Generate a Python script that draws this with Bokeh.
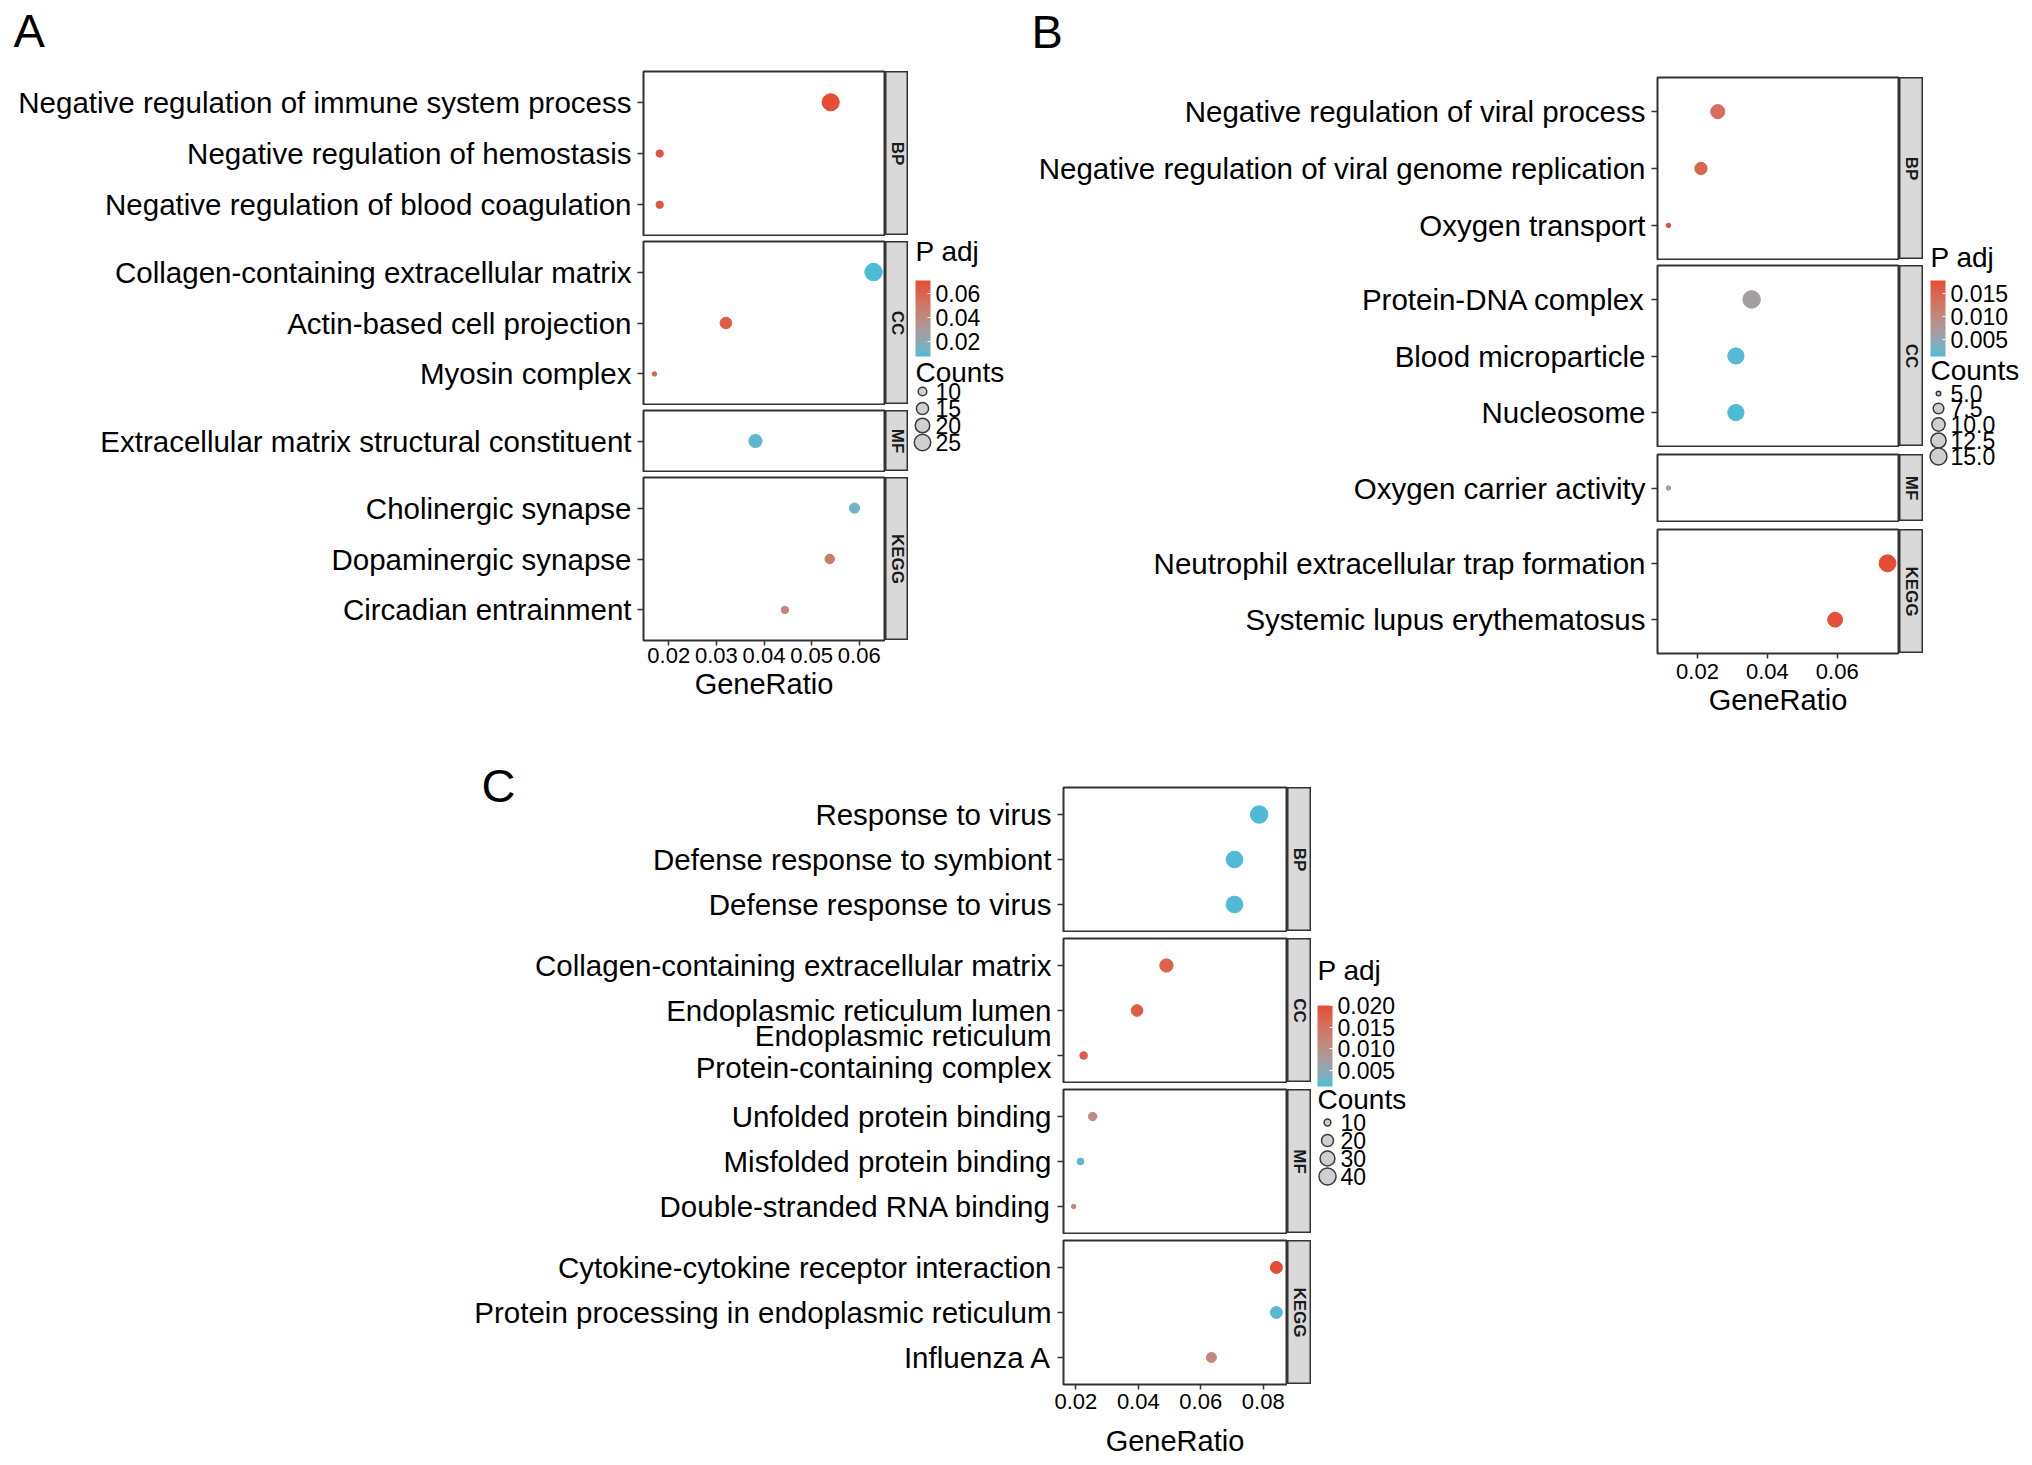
import math
from bokeh.plotting import figure
from bokeh.models import (Range1d, FactorRange, FixedTicker, PrintfTickFormatter, ColorBar,
                          LinearColorMapper, ColumnDataSource, Label, Spacer, AllLabels, Title)
from bokeh.layouts import row, column
from bokeh.transform import transform
from bokeh.embed import file_html
from bokeh.resources import INLINE
from bokeh.core.properties import value

FONT = "Liberation Sans"
ONTOLOGIES = ["BP", "CC", "MF", "KEGG"]

# ---------------- Panel A data ----------------
A_category = ["BP", "BP", "BP", "CC", "CC", "CC", "MF", "KEGG", "KEGG", "KEGG"]
A_term = ["Negative regulation of immune system process",
          "Negative regulation of hemostasis",
          "Negative regulation of blood coagulation",
          "Collagen-containing extracellular matrix",
          "Actin-based cell projection",
          "Myosin complex",
          "Extracellular matrix structural constituent",
          "Cholinergic synapse",
          "Dopaminergic synapse",
          "Circadian entrainment"]
A_gene_ratio = [0.054, 0.0181, 0.0181, 0.063, 0.032, 0.017, 0.0382, 0.059, 0.0538, 0.0444]
A_count = [27, 9, 9, 28, 14, 8, 17, 12, 11, 9]
A_padj = [0.0707, 0.0663, 0.0663, 0.0076, 0.0644, 0.0593, 0.0101, 0.0139, 0.0486, 0.0423]
A_ratio_ticks = [0.02, 0.03, 0.04, 0.05, 0.06]
A_padj_ticks = [0.02, 0.04, 0.06]
A_count_breaks = [10, 15, 20, 25]

# ---------------- Panel B data ----------------
B_category = ["BP", "BP", "BP", "CC", "CC", "CC", "MF", "KEGG", "KEGG"]
B_term = ["Negative regulation of viral process",
          "Negative regulation of viral genome replication",
          "Oxygen transport",
          "Protein-DNA complex",
          "Blood microparticle",
          "Nucleosome",
          "Oxygen carrier activity",
          "Neutrophil extracellular trap formation",
          "Systemic lupus erythematosus"]
B_gene_ratio = [0.0258, 0.021, 0.0117, 0.0355, 0.031, 0.031, 0.0117, 0.0744, 0.0594]
B_count = [11, 9, 5, 16, 14, 14, 5, 15, 12]
B_padj = [0.0137, 0.0148, 0.0170, 0.0066, 0.0016, 0.0013, 0.0068, 0.0178, 0.0173]
B_ratio_ticks = [0.02, 0.04, 0.06]
B_padj_ticks = [0.005, 0.010, 0.015]
B_count_breaks = [5.0, 7.5, 10.0, 12.5, 15.0]

# ---------------- Panel C data ----------------
C_category = ["BP", "BP", "BP", "CC", "CC", "CC", "MF", "MF", "MF", "KEGG", "KEGG", "KEGG"]
C_term = ["Response to virus",
          "Defense response to symbiont",
          "Defense response to virus",
          "Collagen-containing extracellular matrix",
          "Endoplasmic reticulum lumen",
          "Endoplasmic reticulum\nProtein-containing complex",
          "Unfolded protein binding",
          "Misfolded protein binding",
          "Double-stranded RNA binding",
          "Cytokine-cytokine receptor interaction",
          "Protein processing in endoplasmic reticulum",
          "Influenza A"]
C_gene_ratio = [0.0787, 0.0708, 0.0708, 0.049, 0.0396, 0.0225, 0.0254, 0.0215, 0.0193, 0.0842, 0.0842, 0.0634]
C_count = [42, 38, 38, 24, 19, 11, 12, 10, 9, 20, 20, 15]
C_padj = [0.0012, 0.0014, 0.0014, 0.0172, 0.0181, 0.0181, 0.0106, 0.0020, 0.0115, 0.0200, 0.0018, 0.0115]
C_ratio_ticks = [0.02, 0.04, 0.06, 0.08]
C_padj_ticks = [0.005, 0.010, 0.015, 0.020]
C_count_breaks = [10, 20, 30, 40]

# ---------------- colour scale (CIELAB interpolation like ggplot) ----------------
LOW_COLOR = "#4DBBD5"
HIGH_COLOR = "#E64B35"


def _lin(c):
    return c / 12.92 if c <= 0.04045 else ((c + 0.055) / 1.055) ** 2.4


def _gam(c):
    return 12.92 * c if c <= 0.0031308 else 1.055 * c ** (1 / 2.4) - 0.055


def hex_to_lab(h):
    r, g, b = (_lin(int(h[i:i + 2], 16) / 255) for i in (1, 3, 5))
    X = (0.4124564 * r + 0.3575761 * g + 0.1804375 * b) / 0.95047
    Y = (0.2126729 * r + 0.7151522 * g + 0.0721750 * b)
    Z = (0.0193339 * r + 0.1191920 * g + 0.9503041 * b) / 1.08883
    f = lambda t: t ** (1 / 3) if t > 216 / 24389 else (24389 / 27 * t + 16) / 116
    fx, fy, fz = f(X), f(Y), f(Z)
    return 116 * fy - 16, 500 * (fx - fy), 200 * (fy - fz)


def lab_to_hex(L, a, b):
    fy = (L + 16) / 116
    fx = fy + a / 500
    fz = fy - b / 200
    finv = lambda t: t ** 3 if t ** 3 > 216 / 24389 else (116 * t - 16) / (24389 / 27)
    X, Y, Z = finv(fx) * 0.95047, finv(fy), finv(fz) * 1.08883
    r = 3.2404542 * X - 1.5371385 * Y - 0.4985314 * Z
    g = -0.9692660 * X + 1.8760108 * Y + 0.0415560 * Z
    bb = 0.0556434 * X - 0.2040259 * Y + 1.0572252 * Z
    return "#%02x%02x%02x" % tuple(int(round(max(0.0, min(1.0, _gam(max(0.0, c)))) * 255)) for c in (r, g, bb))


_l0, _l1 = hex_to_lab(LOW_COLOR), hex_to_lab(HIGH_COLOR)
PALETTE = [lab_to_hex(*[_l0[k] + (_l1[k] - _l0[k]) * i / 255 for k in range(3)]) for i in range(256)]

DMIN, DMAX = 4.5, 17.5

# ---------------- geometry (page pixels, origin top-left of the page) ----------------
# text positions below are vertical centres of the text
LETTER_ROW_H = 60
GEO_A = dict(x0=8, frame_left=643, frame_right=884, strip_right=908, bar_left=915, legend_right=1030,
             block_top=LETTER_ROW_H, block_bottom=730, facet_top=[71, 241, 410, 477], facet_h=[164, 163, 61, 163],
             letter=("A", 13, 30), letter_mode="row",
             legend_top=236, legend_bottom=470, bar_top=280, bar_h=76, title_y=251,
             counts_y=372, item_y=[391, 408, 425, 442], circle_dx=7, label_dx=20,
             tick_standoff=2, label_standoff=2, ratio_fmt="%.2f", padj_fmt="%.2f", count_fmt="%d")
GEO_B = dict(x0=1030, frame_left=1657, frame_right=1898, strip_right=1923, bar_left=1930, legend_right=2024,
             block_top=LETTER_ROW_H, block_bottom=730, facet_top=[77, 265, 454, 529], facet_h=[182, 181, 67, 124],
             letter=("B", 1031, 31), letter_mode="row",
             legend_top=236, legend_bottom=480, bar_top=280, bar_h=76, title_y=257,
             counts_y=370, item_y=[393, 408, 424, 440, 456], circle_dx=8, label_dx=20,
             tick_standoff=5, label_standoff=2, ratio_fmt="%.2f", padj_fmt="%.3f", count_fmt="%.1f")
GEO_C = dict(x0=460, frame_left=1063, frame_right=1286, strip_right=1311, bar_left=1317, legend_right=1460,
             block_top=730, block_bottom=1462, facet_top=[787, 938, 1089, 1240], facet_h=[144, 144, 144, 144],
             letter=("C", 481, 806), letter_mode="title", letter_standoff=-49,
             legend_top=940, legend_bottom=1200, bar_top=1005, bar_h=81, title_y=970,
             counts_y=1099, item_y=[1122, 1140, 1158, 1176], circle_dx=10, label_dx=23,
             tick_standoff=4, label_standoff=13, ratio_fmt="%.2f", padj_fmt="%.3f", count_fmt="%d")

LETTER_SIZE = "47px"


def plain_fig(w, h):
    f = figure(width=w, height=h, x_range=Range1d(0, w), y_range=Range1d(h, 0),
               x_axis_location=None, y_axis_location=None, min_border=0,
               toolbar_location=None, output_backend="svg")
    f.outline_line_color = None
    f.grid.visible = False
    return f


def letter_fig(geo, width, height):
    letter, lx, ly = geo["letter"]
    f = plain_fig(width, height)
    f.text(x=[lx - geo["x0"]], y=[ly], text=[letter], text_font=value(FONT),
           text_font_size=value(LETTER_SIZE), text_baseline=value("middle"), text_color="black")
    return f


def build_panel(cat, terms, ratios, counts, padj, ratio_ticks, padj_ticks, count_breaks, geo):
    cmin, cmax = min(counts), max(counts)

    def diam(c):
        return DMIN + (DMAX - DMIN) * math.sqrt(max(c - cmin, 0) / (cmax - cmin))

    mapper = LinearColorMapper(palette=PALETTE, low=min(padj), high=max(padj))
    rmin, rmax = min(ratios), max(ratios)
    pad = 0.05 * (rmax - rmin)
    xr = Range1d(rmin - pad, rmax + pad)
    frame_w = geo["frame_right"] - geo["frame_left"]
    left_b = geo["frame_left"] - geo["x0"]
    strip_w = geo["strip_right"] - geo["frame_right"] - 1

    facets = [o for o in ONTOLOGIES if o in cat]
    items, strips = [], []
    letter, lx, ly = geo["letter"]
    prev_bottom = geo["block_top"]
    prev_strip_bottom = geo["block_top"]
    for i, ont in enumerate(facets):
        idx = [k for k, c in enumerate(cat) if c == ont]
        t = [terms[k] for k in idx]
        src = ColumnDataSource(dict(term=t,
                                    ratio=[ratios[k] for k in idx],
                                    count=[counts[k] for k in idx],
                                    padj=[padj[k] for k in idx],
                                    size=[diam(counts[k]) for k in idx]))
        top = geo["facet_top"][i]
        h = geo["facet_h"][i]
        last = i == len(facets) - 1
        top_b = top - prev_bottom
        bottom_b = geo["block_bottom"] - (top + h) if last else 1
        yr = FactorRange(factors=list(reversed(t)), range_padding=0.1, range_padding_units="absolute")
        p = figure(width=left_b + frame_w + 1, height=top_b + h + bottom_b, x_range=xr, y_range=yr,
                   output_backend="svg", toolbar_location=None,
                   x_axis_location="below" if last else None, y_axis_location="left",
                   min_border_left=left_b, min_border_right=1, min_border_top=top_b,
                   min_border_bottom=bottom_b)
        prev_bottom = top + h + bottom_b
        p.outline_line_color = "#333333"
        p.outline_line_width = 2
        p.grid.visible = False
        p.scatter(x="ratio", y="term", size="size", source=src,
                  fill_color=transform("padj", mapper), line_color=transform("padj", mapper),
                  line_width=1)
        ya = p.yaxis[0]
        ya.major_label_text_font = FONT
        ya.major_label_text_font_size = "29.5px"
        ya.major_label_text_color = "black"
        ya.major_label_text_line_height = 0.95
        ya.major_tick_out = 6
        ya.major_tick_in = 0
        ya.major_tick_line_color = "#333333"
        ya.major_tick_line_width = 1.5
        ya.axis_line_color = None
        ya.major_label_standoff = 6
        if last:
            xa = p.xaxis[0]
            xa.ticker = FixedTicker(ticks=ratio_ticks)
            xa.formatter = PrintfTickFormatter(format=geo["ratio_fmt"])
            xa.major_label_policy = AllLabels()
            xa.major_label_text_font = FONT
            xa.major_label_text_font_size = "22px"
            xa.major_label_text_color = "black"
            xa.major_tick_out = 5
            xa.major_tick_in = 0
            xa.major_tick_line_color = "#333333"
            xa.major_tick_line_width = 1.5
            xa.minor_tick_line_color = None
            xa.axis_line_color = None
            xa.major_label_standoff = geo["tick_standoff"]
            xa.axis_label = "GeneRatio"
            xa.axis_label_text_font = FONT
            xa.axis_label_text_font_size = "29px"
            xa.axis_label_text_font_style = "normal"
            xa.axis_label_text_color = "black"
            xa.axis_label_standoff = geo["label_standoff"]
        if i == 0 and geo["letter_mode"] == "title":
            p.add_layout(Title(text=letter, align="left", offset=lx - geo["frame_left"],
                               standoff=geo["letter_standoff"], vertical_align="bottom",
                               text_font=FONT, text_font_size=LETTER_SIZE,
                               text_font_style="normal", text_color="black"), "above")
        items.append(p)

        # strip
        strips.append(Spacer(width=strip_w, height=top - prev_strip_bottom))
        s = figure(width=strip_w, height=h, x_range=Range1d(0, 1), y_range=Range1d(0, 1),
                   x_axis_location=None, y_axis_location=None, min_border=0,
                   toolbar_location=None, output_backend="svg")
        s.background_fill_color = "#D9D9D9"
        s.outline_line_color = "#333333"
        s.outline_line_width = 2
        s.grid.visible = False
        s.add_layout(Label(x=0.5, y=0.5, text=ont, angle=-math.pi / 2, text_align="center",
                           text_baseline="middle", text_font=FONT, text_font_size="17px",
                           text_font_style="bold", text_color="#1A1A1A"))
        strips.append(s)
        prev_strip_bottom = top + h

    # legend (one figure, pixel coordinates from its top-left corner)
    lx0 = geo["strip_right"]
    lw = geo["legend_right"] - lx0
    lt = geo["legend_top"]
    lh = geo["legend_bottom"] - lt
    L = plain_fig(lw, lh)
    m = geo["bar_left"] - lx0
    cb = ColorBar(color_mapper=mapper, orientation="vertical",
                  location=(m, lh - (geo["bar_top"] - lt) - geo["bar_h"]), margin=0, padding=0,
                  width=15, height=geo["bar_h"], ticker=FixedTicker(ticks=padj_ticks),
                  formatter=PrintfTickFormatter(format=geo["padj_fmt"]),
                  major_label_policy=AllLabels(),
                  major_label_text_font=FONT, major_label_text_font_size="23px",
                  major_label_text_color="black", label_standoff=5,
                  major_tick_line_color="white", major_tick_in=3, major_tick_out=0,
                  minor_tick_line_color=None, bar_line_color=None,
                  background_fill_color=None, border_line_color=None)
    L.add_layout(cb)
    L.text(x=[m, m], y=[geo["title_y"] - lt, geo["counts_y"] - lt], text=["P adj", "Counts"],
           text_font=value(FONT), text_font_size=value("28px"), text_baseline=value("middle"),
           text_color="black")
    ys = [yy - lt for yy in geo["item_y"]]
    L.scatter(x=[m + geo["circle_dx"]] * len(count_breaks), y=ys, size=[diam(c) for c in count_breaks],
              fill_color="#CFCFCF", line_color="#3A3A3A", line_width=1.5)
    L.text(x=[m + geo["label_dx"]] * len(count_breaks), y=ys,
           text=[geo["count_fmt"] % c for c in count_breaks],
           text_font=value(FONT), text_font_size=value("23px"), text_baseline=value("middle"),
           text_color="black")

    facet_col = column(*items)
    strip_col = column(*strips)
    legend_col = column(Spacer(width=lw, height=lt - geo["block_top"]), L)
    return row(facet_col, strip_col, legend_col)


blockA = build_panel(A_category, A_term, A_gene_ratio, A_count, A_padj, A_ratio_ticks, A_padj_ticks,
                     A_count_breaks, GEO_A)
blockB = build_panel(B_category, B_term, B_gene_ratio, B_count, B_padj, B_ratio_ticks, B_padj_ticks,
                     B_count_breaks, GEO_B)
blockC = build_panel(C_category, C_term, C_gene_ratio, C_count, C_padj, C_ratio_ticks, C_padj_ticks,
                     C_count_breaks, GEO_C)

letters = row(Spacer(width=GEO_A["x0"], height=LETTER_ROW_H),
              letter_fig(GEO_A, GEO_B["x0"] - GEO_A["x0"], LETTER_ROW_H),
              letter_fig(GEO_B, GEO_B["legend_right"] - GEO_B["x0"], LETTER_ROW_H))

page = column(letters,
              row(Spacer(width=GEO_A["x0"], height=10), blockA, blockB),
              row(Spacer(width=GEO_C["x0"], height=10), blockC))

open("out.html", "w").write(file_html(page, INLINE))
